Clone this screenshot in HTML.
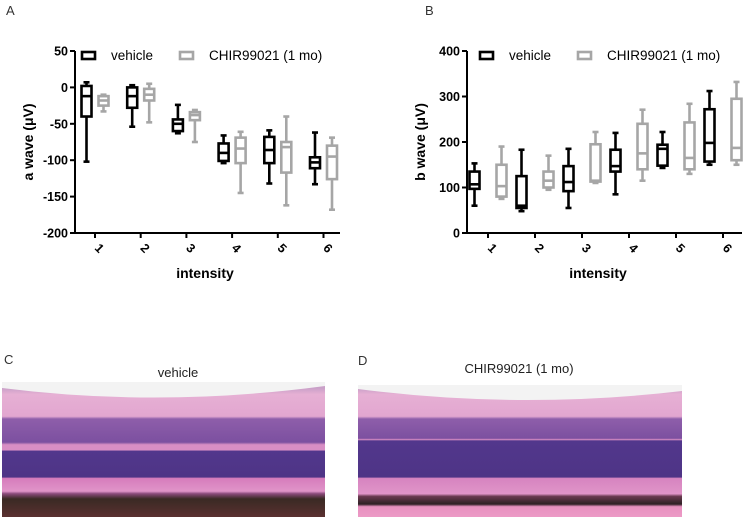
<!DOCTYPE html>
<html><head><meta charset="utf-8"><style>
body{margin:0;background:#fff;width:750px;height:517px;overflow:hidden;font-family:"Liberation Sans",sans-serif}
svg{position:absolute;left:0;top:0}
</style></head><body>
<svg id="s" width="750" height="517">
<defs>
<linearGradient id="retC" gradientUnits="userSpaceOnUse" x1="0" y1="388" x2="0" y2="517">
<stop offset="0" stop-color="#c9a0c8"/>
<stop offset="0.05" stop-color="#e6b0d4"/>
<stop offset="0.22" stop-color="#e2a6d0"/>
<stop offset="0.24" stop-color="#8e5eaa"/>
<stop offset="0.42" stop-color="#7c50a0"/>
<stop offset="0.44" stop-color="#d88ec4"/>
<stop offset="0.48" stop-color="#d88ec4"/>
<stop offset="0.49" stop-color="#52378c"/>
<stop offset="0.69" stop-color="#4e3486"/>
<stop offset="0.7" stop-color="#d67cbc"/>
<stop offset="0.8" stop-color="#e094c8"/>
<stop offset="0.82" stop-color="#8a4a7a"/>
<stop offset="0.86" stop-color="#3a2a24"/>
<stop offset="1" stop-color="#5a3030"/>
</linearGradient>
<linearGradient id="retD" gradientUnits="userSpaceOnUse" x1="0" y1="388" x2="0" y2="517">
<stop offset="0" stop-color="#c9a0c8"/>
<stop offset="0.05" stop-color="#e6b0d4"/>
<stop offset="0.22" stop-color="#e2a6d0"/>
<stop offset="0.24" stop-color="#8e5eaa"/>
<stop offset="0.39" stop-color="#7c50a0"/>
<stop offset="0.4" stop-color="#d88ec4"/>
<stop offset="0.41" stop-color="#52378c"/>
<stop offset="0.69" stop-color="#4e3486"/>
<stop offset="0.7" stop-color="#d684c0"/>
<stop offset="0.82" stop-color="#e094c8"/>
<stop offset="0.84" stop-color="#6a3a50"/>
<stop offset="0.9" stop-color="#2e2024"/>
<stop offset="0.92" stop-color="#e890c0"/>
<stop offset="1" stop-color="#ec9ac6"/>
</linearGradient>
</defs>
<text x="6" y="15" font-size="13" fill="#333">A</text>
<text x="425" y="15" font-size="13" fill="#333">B</text>
<g id="ga"></g>
<g id="gb"></g>
<rect x="2" y="382" width="323" height="135" fill="#f3f3f3"/>
<path d="M2,388 Q160,408 325,386 L325,517 L2,517 Z" fill="url(#retC)"/>
<rect x="358" y="385" width="324" height="132" fill="#f3f3f3"/>
<path d="M358,389 Q520,410 682,391 L682,517 L358,517 Z" fill="url(#retD)"/>
<text x="4" y="364" font-size="13" fill="#333">C</text>
<text x="178" y="377" font-size="13" fill="#222" text-anchor="middle">vehicle</text>
<text x="358" y="365" font-size="13" fill="#333">D</text>
<text x="519" y="373" font-size="13" fill="#222" text-anchor="middle">CHIR99021 (1 mo)</text>
</svg>
<script>
const cats=["1","2","3","4","5","6"];
// [whiskerHigh, boxHigh, median, boxLow, whiskerLow]
const aVeh=[[7,2,-12,-40,-102],[3,0,-12,-28,-54],[-24,-44,-50,-60,-63],[-66,-77,-90,-101,-104],[-59,-68,-86,-104,-132],[-62,-96,-103,-111,-133]];
const aChir=[[-10,-12,-18,-25,-33],[5,-2,-10,-18,-48],[-31,-34,-38,-45,-75],[-61,-69,-84,-104,-145],[-40,-75,-82,-117,-162],[-69,-80,-95,-126,-168]];
const aTicks=[50,0,-50,-100,-150,-200];
const bVeh=[[153,135,107,97,60],[183,125,60,55,48],[185,147,112,92,55],[220,183,147,135,85],[222,194,185,148,143],[312,272,198,157,150]];
const bChir=[[190,150,103,80,75],[170,135,115,100,95],[222,195,115,113,110],[271,240,175,140,115],[284,243,165,140,130],[332,295,187,160,150]];
const bTicks=[0,100,200,300,400];
const NS="http://www.w3.org/2000/svg";
function mk(p,t,a){const e=document.createElementNS(NS,t);for(const k in a)e.setAttribute(k,a[k]);p.appendChild(e);return e;}
function chart(g,cfg){
  const y=v=>cfg.y0+(v-cfg.vmin)/(cfg.vmax-cfg.vmin)*(cfg.y1-cfg.y0);
  const x=i=>cfg.xc0+i*cfg.dx;
  const ya=mk(g,'line',{x1:cfg.ax,x2:cfg.ax,y1:y(cfg.vmax),y2:y(cfg.vmin),stroke:'#000','stroke-width':2});
  
  const xa=mk(g,'line',{x1:cfg.ax,x2:cfg.axEnd,y1:y(cfg.vmin),y2:y(cfg.vmin),stroke:'#000','stroke-width':2});
  
  cfg.ticks.forEach(t=>{
    mk(g,'line',{x1:cfg.ax-5,x2:cfg.ax,y1:y(t),y2:y(t),stroke:'#000','stroke-width':2});
    const tl=mk(g,'text',{x:cfg.ax-7,y:y(t)+4.5,'font-size':12.5,'font-weight':'bold','text-anchor':'end'});tl.textContent=t;
    
  });
  cats.forEach((c,i)=>{
    const yb=y(cfg.vmin);
    mk(g,'line',{x1:x(i),x2:x(i),y1:yb,y2:yb+5,stroke:'#000','stroke-width':2});
    const tl=mk(g,'text',{x:x(i)+4,y:yb+16,'font-size':12.5,'font-weight':'bold','text-anchor':'middle',transform:`rotate(45 ${x(i)} ${yb+14})`});tl.textContent=c;
    
    [[cfg.veh,'#000',-cfg.off],[cfg.chir,'#a6a6a6',cfg.off]].forEach(([d,col,o])=>{
      const v=d[i],cx=x(i)+o,w=cfg.bw;
      const b=mk(g,'g',{stroke:col,'stroke-width':2.6,fill:'none'});
      
      
      mk(b,'line',{x1:cx,x2:cx,y1:y(v[0]),y2:y(v[1])});
      mk(b,'line',{x1:cx,x2:cx,y1:y(v[3]),y2:y(v[4])});
      mk(b,'line',{x1:cx-3,x2:cx+3,y1:y(v[0]),y2:y(v[0])});
      mk(b,'line',{x1:cx-3,x2:cx+3,y1:y(v[4]),y2:y(v[4])});
      mk(b,'rect',{x:cx-w/2,y:y(v[1]),width:w,height:y(v[3])-y(v[1])});
      mk(b,'line',{x1:cx-w/2,x2:cx+w/2,y1:y(v[2]),y2:y(v[2])});
    });
  });
  const yt=mk(g,'text',{x:0,y:0,'font-size':14,'font-weight':'bold','text-anchor':'middle',transform:`translate(${cfg.ax-42},${(cfg.y0+cfg.y1)/2}) rotate(-90)`});
  yt.textContent=cfg.ytitle;
  const xt=mk(g,'text',{x:cfg.xt,y:278,'font-size':14,'font-weight':'bold','text-anchor':'middle'});
  xt.textContent='intensity';
  const l1=mk(g,'rect',{x:cfg.lx,y:52,width:13,height:7,fill:'none',stroke:'#000','stroke-width':2.6});
  
  const t1=mk(g,'text',{x:cfg.lx+29,y:60,'font-size':13.5});t1.textContent='vehicle';
  
  const l2=mk(g,'rect',{x:cfg.lx+98,y:52,width:13,height:7,fill:'none',stroke:'#a6a6a6','stroke-width':2.6});
  
  const t2=mk(g,'text',{x:cfg.lx+127,y:60,'font-size':13.5});t2.textContent='CHIR99021 (1 mo)';
  
}
chart(document.getElementById('ga'),{y0:233,y1:51,vmin:-200,vmax:50,ax:75,axEnd:340,xc0:95,dx:45.7,off:8.5,bw:10,ticks:aTicks,veh:aVeh,chir:aChir,ytitle:'a wave (μV)',xt:205,lx:82});
chart(document.getElementById('gb'),{y0:233,y1:51,vmin:0,vmax:400,ax:467,axEnd:742,xc0:488,dx:47,off:13.5,bw:10,ticks:bTicks,veh:bVeh,chir:bChir,ytitle:'b wave (μV)',xt:598,lx:480});
</script>
</body></html>
